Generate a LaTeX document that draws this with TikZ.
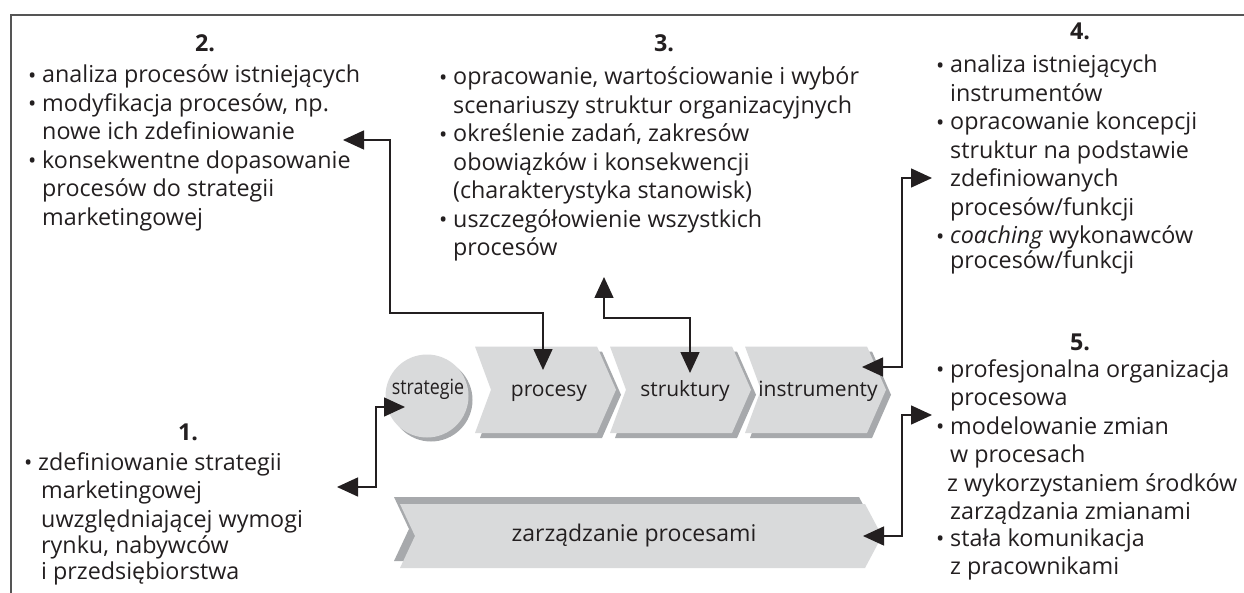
\documentclass[tikz,border=0pt]{standalone}
\usepackage{fontspec}
\setmainfont{Open Sans}
\usepackage{graphicx}
\usetikzlibrary{arrows.meta}

\definecolor{ink}{HTML}{231F20}
\definecolor{boxfill}{HTML}{D9DADB}
\definecolor{boxshade}{HTML}{A7A9AC}
\definecolor{framegray}{HTML}{555555}

% bulleted list lines
\newlength\bulw \setlength\bulw{13pt}
\newcommand\bul{\makebox[\bulw][l]{\hspace*{-1pt}\raisebox{-0.5pt}{\fontsize{22}{22}\selectfont •}}}
\newcommand\bitem[1]{\hbox{\bul#1}}
\newcommand\contline[2][0pt]{\hbox{\hspace*{\dimexpr\bulw+#1\relax}#2}}

\tikzset{
  txt/.style={inner sep=0pt, text=ink, anchor=base west,
              font=\fontsize{23.3}{28.5}\selectfont},
  head/.style={inner sep=0pt, text=ink, anchor=base,
              font=\fontsize{23.3}{28.5}\selectfont\bfseries},
  lbl/.style={inner sep=0pt, text=ink, anchor=base,
              font=\fontsize{21}{26}\selectfont},
  conn/.style={draw=ink, line width=1.5pt,
              {Triangle[length=21pt,width=19pt]}-{Triangle[length=21pt,width=19pt]}},
  chevron/.pic={
    \fill[boxshade] (5,5) -- (127,5) -- (146,48.25) -- (127,91.5) -- (5,91.5) -- (21,48.25) -- cycle;
    \fill[boxfill] (0,0) -- (122,0) -- (141,43.25) -- (122,86.5) -- (0,86.5) -- (16,43.25) -- cycle;
  }
}

\begin{document}
\begin{tikzpicture}[x=1pt,y=-1pt]
\useasboundingbox (0,0) rectangle (1244,593);
\fill[white] (0,0) rectangle (1244,593);

% frame
\draw[framegray, line width=1.6pt] (1244,15) -- (11,15) -- (11,593);

% central process chain
\fill[boxshade] (431,400) circle (41.5);
\fill[boxfill] (427,396) circle (41.5);
\pic at (475,346.5) {chevron};
\pic at (610,346.5) {chevron};
\pic at (745,346.5) {chevron};

% management bar
\fill[boxshade] (394,497) -- (859,497) -- (876,529) -- (859,561) -- (394,561) -- (409,529) -- cycle;
\fill[boxfill] (400,504) -- (865,504) -- (882,536) -- (865,568) -- (400,568) -- (415,536) -- cycle;

\node[lbl] (strategie) at (428,394) {\scalebox{0.85}[1]{strategie}};
\node[lbl] (procesy) at (549,396) {procesy};
\node[lbl] (struktury) at (685,396) {struktury};
\node[lbl] (instrumenty) at (818,396) {instrumenty};
\node[lbl, font=\fontsize{23}{26}\selectfont] (zarzadzanie) at (634,541) {zarządzanie procesami};

% 1.
\node[head] (h1) at (188,440) {1.};
\node[txt] (b1) at (25,470) {\vtop{%
  \bitem{zdefiniowanie strategii}
  \contline[3pt]{marketingowej}
  \contline[3pt]{uwzględniającej wymogi}
  \vskip-2pt
  \contline[3pt]{rynku, nabywców}
  \vskip-3pt
  \contline[3pt]{i przedsiębiorstwa}}};

% 2.
\node[head] (h2) at (205,52) {2.};
\node[txt] (b2) at (29,83) {\vtop{%
  \bitem{analiza procesów istniejących}
  \bitem{modyfikacja procesów, np.}
  \contline{nowe ich zdefiniowanie}
  \bitem{konsekwentne dopasowanie}
  \contline{procesów do strategii}
  \contline{marketingowej}}};

% 3.
\node[head] (h3) at (664,52) {3.};
\node[txt] (b3) at (440,85) {\vtop{%
  \bitem{opracowanie, wartościowanie i wybór}
  \contline{scenariuszy struktur organizacyjnych}
  \bitem{określenie zadań, zakresów}
  \contline{obowiązków i konsekwencji}
  \contline{(charakterystyka stanowisk)}
  \bitem{uszczegółowienie wszystkich}
  \contline{procesów}}};

% 4.
\node[head] (h4) at (1080,40) {4.};
\node[txt] (b4) at (937,73) {\vtop{%
  \bitem{analiza istniejących}
  \contline{instrumentów}
  \bitem{opracowanie koncepcji}
  \contline{struktur na podstawie}
  \contline{zdefiniowanych}
  \contline{procesów/funkcji}
  \bitem{\textit{coaching} wykonawców}
  \vskip-4pt
  \contline{procesów/funkcji}}};

% 5.
\node[head] (h5) at (1080,350) {5.};
\node[txt] (b5) at (937,377) {\vtop{%
  \bitem{profesjonalna organizacja}
  \contline{procesowa}
  \bitem{modelowanie zmian}
  \contline{w procesach}
  \contline[-3pt]{z wykorzystaniem środków}
  \contline{zarządzania zmianami}
  \vskip-2pt
  \bitem{stała komunikacja}
  \contline{z pracownikami}}};

% connector ends
\coordinate (e1) at (337,487);
\coordinate (es) at (405,407);
\coordinate (e2) at (343,140);
\coordinate (ep) at (543,370);
\coordinate (e3) at (604,277);
\coordinate (et) at (690,373);
\coordinate (e4) at (932,178);
\coordinate (ei) at (862,367);
\coordinate (e5) at (932,415);
\coordinate (ez) at (863,536);

% connectors
\draw[conn] (e1) -- ++(39,0) |- (es);
\draw[conn] (e2) -- ++(47,0) |- ([yshift=57pt]ep) -- (ep);
\draw[conn] (e3) |- ([yshift=55pt]et) -- (et);
\draw[conn] (e4) -- ++(-30,0) |- (ei);
\draw[conn] (e5) -- ++(-30,0) |- (ez);
\end{tikzpicture}
\end{document}
